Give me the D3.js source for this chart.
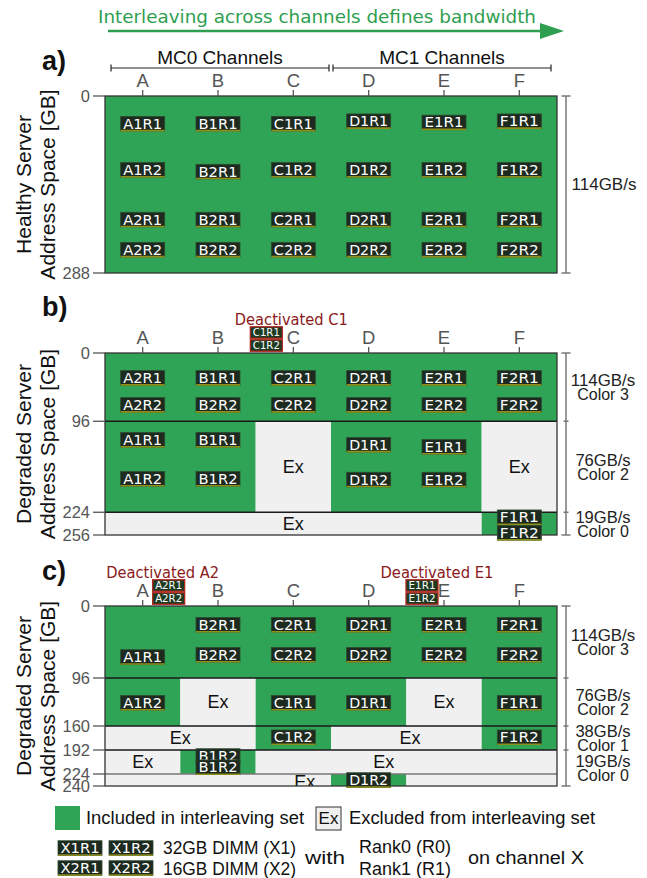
<!DOCTYPE html>
<html>
<head>
<meta charset="utf-8">
<script src="https://cdn.jsdelivr.net/npm/d3@7"></script>
<style>
  body { margin: 0; background: #fff; }
  svg { display: block; }
</style>
</head>
<body>
<script>
// ---------------- DATA ----------------
const channels = ["A", "B", "C", "D", "E", "F"];
const mcGroups = [["MC0 Channels", "A", "C"], ["MC1 Channels", "D", "F"]];
const headline = "Interleaving across channels defines bandwidth";

const ticksA = [0, 288];
const ticksB = [0, 96, 224, 256];
const ticksC = [0, 96, 160, 192, 224, 240];

// [startGB, endGB, fromChannel, toChannel, included]
const cellsA = [[0, 288, "A", "F", true]];
const cellsB = [
  [0, 96, "A", "F", true],
  [96, 224, "A", "B", true], [96, 224, "C", "C", false], [96, 224, "D", "E", true], [96, 224, "F", "F", false],
  [224, 256, "A", "E", false], [224, 256, "F", "F", true]
];
const cellsC = [
  [0, 96, "A", "F", true],
  [96, 160, "A", "A", true], [96, 160, "B", "B", false], [96, 160, "C", "D", true], [96, 160, "E", "E", false], [96, 160, "F", "F", true],
  [160, 192, "A", "B", false], [160, 192, "C", "C", true], [160, 192, "D", "E", false], [160, 192, "F", "F", true],
  [192, 224, "A", "A", false], [192, 224, "B", "B", true], [192, 224, "C", "F", false],
  [224, 240, "A", "C", false], [224, 240, "D", "D", true], [224, 240, "E", "F", false]
];

// "Ex" labels: [channel index, GB]
const exA = [];
const exB = [[2, 160], [5, 160], [2, 240]];
const exC = [[1, 128], [4, 128], [0.5, 176], [3.55, 176], [0, 208], [3.2, 208], [2.15, 235]];

// DIMM rank labels: [name, GB]
const labelsA = [
  ["A1R1", 45], ["B1R1", 45], ["C1R1", 45], ["D1R1", 41], ["E1R1", 43], ["F1R1", 41],
  ["A1R2", 120], ["B2R1", 123], ["C1R2", 120], ["D1R2", 120], ["E1R2", 120], ["F1R2", 120],
  ["A2R1", 201], ["B2R1", 201], ["C2R1", 201], ["D2R1", 201], ["E2R1", 201], ["F2R1", 201],
  ["A2R2", 250], ["B2R2", 250], ["C2R2", 250], ["D2R2", 250], ["E2R2", 250], ["F2R2", 250]
];
const labelsB = [
  ["A2R1", 35], ["B1R1", 35], ["C2R1", 35], ["D2R1", 35], ["E2R1", 35], ["F2R1", 35],
  ["A2R2", 73], ["B2R2", 73], ["C2R2", 73], ["D2R2", 73], ["E2R2", 73], ["F2R2", 73],
  ["A1R1", 122], ["B1R1", 122], ["D1R1", 129], ["E1R1", 132],
  ["A1R2", 177], ["B1R2", 177], ["D1R2", 178], ["E1R2", 178],
  ["F1R1", 231], ["F1R2", 253]
];
const labelsC = [
  ["B2R1", 25], ["C2R1", 25], ["D2R1", 25], ["E2R1", 25], ["F2R1", 25],
  ["A1R1", 68], ["B2R2", 65], ["C2R2", 65], ["D2R2", 65], ["E2R2", 65], ["F2R2", 65],
  ["A1R2", 129], ["C1R1", 129], ["D1R1", 129], ["F1R1", 129],
  ["C1R2", 175], ["F1R2", 175],
  ["B1R2", 200], ["B1R2", 215],
  ["D1R2", 232]
];

// bandwidth bands: [startGB, endGB, line1, line2]
const bandsA = [[0, 288, "114GB/s"]];
const bandsB = [[0, 96, "114GB/s", "Color 3"], [96, 224, "76GB/s", "Color 2"], [224, 256, "19GB/s", "Color 0"]];
const bandsC = [[0, 96, "114GB/s", "Color 3"], [96, 160, "76GB/s", "Color 2"], [160, 192, "38GB/s", "Color 1"], [192, 240, "19GB/s", "Color 0"]];

// deactivated DIMMs: [title, channel, rank1, rank2]
const deactB = [["Deactivated C1", "C", "C1R1", "C1R2"]];
const deactC = [["Deactivated A2", "A", "A2R1", "A2R2"], ["Deactivated E1", "E", "E1R1", "E1R2"]];

const legendTexts = ["Included in interleaving set", "Excluded from interleaving set",
  "32GB DIMM (X1)", "16GB DIMM (X2)", "with", "Rank0 (R0)", "Rank1 (R1)", "on channel X"];
const legendDimms = [["X1R1", "X1R2"], ["X2R1", "X2R2"]];

// ---------------- STYLE / LAYOUT ----------------
const GREEN = "#2fa356", EXC = "#f0f0f0", DARK = "#222", GRAY = "#555";
const SANS = "'Liberation Sans', Arial, sans-serif";
const HUM = "'DejaVu Sans', Verdana, sans-serif";

const W = 647, H = 878;
const svg = d3.select("body").append("svg").attr("width", W).attr("height", H);

const x = d3.scaleBand().domain(channels).range([105, 557]).paddingInner(0).paddingOuter(0);
const bw = x.bandwidth();
const cx = c => x(c) + bw / 2;
const cxi = i => x.range()[0] + (i + 0.5) * bw;

// headline arrow
svg.append("text").attr("x", 98).attr("y", 23).attr("font-family", HUM).attr("font-size", 17)
  .attr("fill", "#2e9e4f").attr("textLength", 438).attr("lengthAdjust", "spacingAndGlyphs").text(headline);
svg.append("line").attr("x1", 108).attr("x2", 545).attr("y1", 31).attr("y2", 31)
  .attr("stroke", "#2e9e4f").attr("stroke-width", 2.5);
svg.append("path").attr("d", "M540,23 L564,31 L540,39 Z").attr("fill", "#2e9e4f");

// MC brackets
mcGroups.forEach(([name, a, b], i) => {
  const x1 = x(a) + (i === 0 ? 6 : 2), x2 = x(b) + bw - (i === 0 ? 2 : 6);
  svg.append("line").attr("x1", x1).attr("x2", x2).attr("y1", 68).attr("y2", 68).attr("stroke", DARK).attr("stroke-width", 1.2);
  [x1, x2].forEach(xx => svg.append("line").attr("x1", xx).attr("x2", xx).attr("y1", 64.5).attr("y2", 71.5).attr("stroke", DARK).attr("stroke-width", 1.2));
  svg.append("text").attr("x", (x1 + x2) / 2).attr("y", 64).attr("text-anchor", "middle")
    .attr("font-family", SANS).attr("font-size", 19).attr("fill", "#111").text(name);
});

function dimm(g, xc, yc, name, small, deact) {
  const w = small ? 32 : 44, h = small ? 11.5 : 14.5;
  const gg = g.append("g");
  gg.append("rect").attr("x", xc - w / 2).attr("y", yc - h / 2).attr("width", w).attr("height", h)
    .attr("fill", deact ? "#1d3b22" : "#1d2a1f")
    .attr("stroke", deact ? "#b3261e" : "#2c4a30").attr("stroke-width", deact ? 1.3 : 0.8);
  if (!deact) gg.append("line").attr("x1", xc - w / 2).attr("x2", xc + w / 2)
    .attr("y1", yc + h / 2 - 0.3).attr("y2", yc + h / 2 - 0.3).attr("stroke", "#8e8e18").attr("stroke-width", 1.6);
  gg.append("text").attr("x", xc).attr("y", yc + (small ? 3.8 : 5)).attr("text-anchor", "middle")
    .attr("font-family", HUM).attr("font-size", small ? 10 : 13.8).attr("fill", "#fff")
    .attr("textLength", w - (small ? 5 : 5)).attr("lengthAdjust", "spacingAndGlyphs").text(name);
}

const panels = [
  { id: "a", tag: "a)", tagY: 70, top: 96, bottom: 273, max: 288, ticks: ticksA, cells: cellsA, ex: exA,
    labels: labelsA, bands: bandsA, deact: [], title: ["Healthy Server", "Address Space [GB]"] },
  { id: "b", tag: "b)", tagY: 316, top: 353, bottom: 535, max: 256, ticks: ticksB, cells: cellsB, ex: exB,
    labels: labelsB, bands: bandsB, deact: deactB, title: ["Degraded Server", "Address Space [GB]"],
    dOff: { "C": [-2, -27] } },
  { id: "c", tag: "c)", tagY: 580, top: 606, bottom: 786, max: 240, ticks: ticksC, cells: cellsC, ex: exC,
    labels: labelsC, bands: bandsC, deact: deactC, title: ["Degraded Server", "Address Space [GB]"],
    dOff: { "A": [20, 26], "E": [-7, -22] } }
];

panels.forEach(p => {
  const y = d3.scaleLinear().domain([0, p.max]).range([p.top, p.bottom]);
  const g = svg.append("g");

  g.append("text").attr("x", 42).attr("y", p.tagY).attr("font-family", SANS).attr("font-weight", "bold")
    .attr("font-size", 27).attr("fill", "#111").text(p.tag);

  const cyT = (p.top + p.bottom) / 2;
  [[31, p.title[0]], [55, p.title[1]]].forEach(([xx, t]) => {
    g.append("text").attr("transform", `translate(${xx},${cyT}) rotate(-90)`).attr("text-anchor", "middle")
      .attr("font-family", SANS).attr("font-size", 21).attr("fill", "#111").text(t);
  });

  const clipId = "clip-" + p.id;
  svg.append("clipPath").attr("id", clipId).append("rect")
    .attr("x", x.range()[0]).attr("y", p.top).attr("width", x.range()[1] - x.range()[0]).attr("height", p.bottom - p.top);

  const cg = g.append("g").attr("clip-path", `url(#${clipId})`);
  cg.selectAll("rect.cell").data(p.cells).join("rect").attr("class", "cell")
    .attr("x", d => x(d[2])).attr("width", d => x(d[3]) + bw - x(d[2]))
    .attr("y", d => y(d[0])).attr("height", d => y(d[1]) - y(d[0]))
    .attr("fill", d => d[4] ? GREEN : EXC);

  const bandEdges = new Set(p.bands.map(b => b[1]));
  const seps = p.ticks.filter(t => t > 0 && t < p.max);
  cg.selectAll("line.sep").data(seps).join("line").attr("class", "sep")
    .attr("x1", x.range()[0]).attr("x2", x.range()[1]).attr("y1", d => y(d)).attr("y2", d => y(d))
    .attr("stroke", d => bandEdges.has(d) ? "#1a1a1a" : "#777").attr("stroke-width", 1.3);

  cg.selectAll("text.ex").data(p.ex).join("text").attr("class", "ex")
    .attr("x", d => cxi(d[0])).attr("y", d => y(d[1]) + 6).attr("text-anchor", "middle")
    .attr("font-family", SANS).attr("font-size", 18).attr("fill", "#111").text("Ex");

  g.append("rect").attr("x", x.range()[0]).attr("y", p.top).attr("width", x.range()[1] - x.range()[0])
    .attr("height", p.bottom - p.top).attr("fill", "none").attr("stroke", "#333").attr("stroke-width", 1.3);

  p.ticks.forEach(t => {
    g.append("line").attr("x1", 93).attr("x2", 105).attr("y1", y(t)).attr("y2", y(t)).attr("stroke", GRAY).attr("stroke-width", 1.3);
    g.append("text").attr("x", 90).attr("y", y(t) + 6).attr("text-anchor", "end")
      .attr("font-family", SANS).attr("font-size", 16.5).attr("fill", GRAY).text(t);
  });

  channels.forEach(c => {
    g.append("line").attr("x1", cx(c)).attr("x2", cx(c)).attr("y1", p.top - 6).attr("y2", p.top).attr("stroke", GRAY).attr("stroke-width", 1.3);
    g.append("text").attr("x", cx(c)).attr("y", p.top - 9).attr("text-anchor", "middle")
      .attr("font-family", SANS).attr("font-size", 18.5).attr("fill", GRAY).text(c);
  });

  p.labels.forEach(([n, gb]) => dimm(g, cx(n[0]), y(gb), n, false, false));

  p.deact.forEach(([title, ch, r1, r2]) => {
    const off = p.dOff[ch];
    g.append("text").attr("x", cx(ch) + off[0]).attr("y", p.top - 28.5).attr("text-anchor", "middle")
      .attr("font-family", HUM).attr("font-size", 15).attr("fill", "#8b1a1a")
      .attr("textLength", 113).attr("lengthAdjust", "spacingAndGlyphs").text(title);
    dimm(g, cx(ch) + off[1], p.top - 20.5, r1, true, true);
    dimm(g, cx(ch) + off[1], p.top - 7.5, r2, true, true);
  });

  const bx = 566;
  g.append("line").attr("x1", bx).attr("x2", bx).attr("y1", p.top).attr("y2", p.bottom).attr("stroke", "#777").attr("stroke-width", 1.5);
  const edges = [0, ...p.bands.map(b => b[1])];
  edges.forEach(e => {
    const end = (e === 0 || e === p.max);
    g.append("line").attr("x1", bx - (end ? 4.5 : 2.5)).attr("x2", bx + (end ? 4.5 : 2.5))
      .attr("y1", y(e)).attr("y2", y(e)).attr("stroke", "#777").attr("stroke-width", 1.5);
  });
  p.bands.forEach(b => {
    const m = (y(b[0]) + y(b[1])) / 2;
    if (b.length === 3) {
      g.append("text").attr("x", 604).attr("y", m + 5).attr("text-anchor", "middle")
        .attr("font-family", SANS).attr("font-size", 17).attr("fill", "#222").text(b[2]);
    } else {
      g.append("text").attr("x", 603).attr("y", m - 1).attr("text-anchor", "middle")
        .attr("font-family", SANS).attr("font-size", 16).attr("fill", "#222")
        .attr("textLength", b[2].length * 9.2).attr("lengthAdjust", "spacingAndGlyphs").text(b[2]);
      g.append("text").attr("x", 603).attr("y", m + 13).attr("text-anchor", "middle")
        .attr("font-family", SANS).attr("font-size", 16).attr("fill", "#222").text(b[3]);
    }
  });
});

// ---------------- LEGEND ----------------
const lg = svg.append("g");
lg.append("rect").attr("x", 55).attr("y", 806).attr("width", 25).attr("height", 24).attr("fill", GREEN);
lg.append("text").attr("x", 86).attr("y", 824).attr("font-family", SANS).attr("font-size", 17.5).attr("fill", "#111")
  .attr("textLength", 218).attr("lengthAdjust", "spacingAndGlyphs").text(legendTexts[0]);
lg.append("rect").attr("x", 316).attr("y", 807).attr("width", 25).attr("height", 23).attr("fill", EXC).attr("stroke", "#333").attr("stroke-width", 1);
lg.append("text").attr("x", 328.5).attr("y", 824).attr("text-anchor", "middle").attr("font-family", SANS).attr("font-size", 17).attr("fill", "#111").text("Ex");
lg.append("text").attr("x", 349).attr("y", 824).attr("font-family", SANS).attr("font-size", 17.5).attr("fill", "#111")
  .attr("textLength", 246).attr("lengthAdjust", "spacingAndGlyphs").text(legendTexts[1]);

legendDimms.forEach((row, i) => {
  row.forEach((n, j) => dimm(lg, 80 + j * 51, 848 + i * 20, n, false, false));
});
const lt = (xx, yy, t, len) => {
  const e = lg.append("text").attr("x", xx).attr("y", yy).attr("font-family", SANS).attr("font-size", 17.5).attr("fill", "#111").text(t);
  if (len) e.attr("textLength", len).attr("lengthAdjust", "spacingAndGlyphs");
};
lt(163, 854, legendTexts[2], 133);
lt(163, 875, legendTexts[3], 133);
lt(305, 864, legendTexts[4], 40);
lt(359, 853, legendTexts[5], 92);
lt(359, 875, legendTexts[6], 92);
lt(468, 864, legendTexts[7], 116);
</script>
</body>
</html>
